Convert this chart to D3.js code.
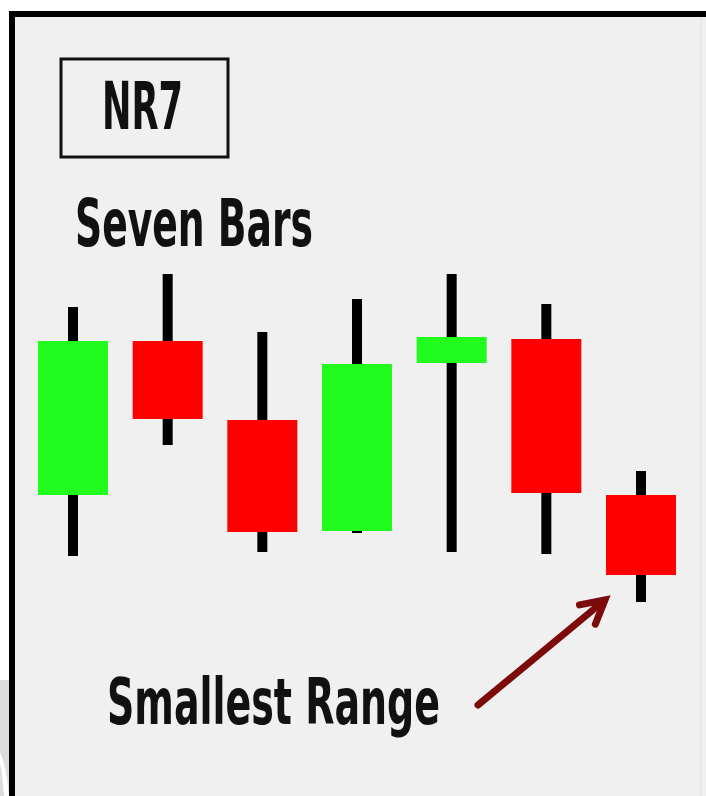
<!DOCTYPE html>
<html>
<head>
<meta charset="utf-8">
<script src="https://cdn.jsdelivr.net/npm/d3@7"></script>
<style>
  html, body { margin: 0; padding: 0; background: #fff; }
  svg { display: block; }
  text { font-family: "Liberation Sans Narrow", "DejaVu Sans Condensed", Roboto, sans-serif; font-weight: 700; fill: #111; }
</style>
</head>
<body>
<svg id="chart"></svg>
<script>
const canvasWidth = 706,
    canvasHeight = 796

// seven bars, arbitrary price units
const bars  = [1, 2, 3, 4, 5, 6, 7]
const open  = [11.5, 26.9, 19.0,  7.9, 24.7, 27.1, 11.5]
const high  = [30.3, 33.6, 27.8, 31.1, 33.6, 30.6, 13.9]
const low   = [ 5.4, 16.5,  5.8,  7.7,  5.8,  5.6,  0.8]
const close = [26.9, 19.1,  7.8, 24.6, 27.3, 11.7,  3.5]

const title = 'NR7'
const subtitle = 'Seven Bars'
const note = 'Smallest Range'

const candles = bars.map((b, i) => ({ bar: b, open: open[i], high: high[i], low: low[i], close: close[i] }))

const bodyWidth = 70,
    wickWidth = 10,
    up = '#22fb1e',
    down = '#ff0000'

const x = d3.scalePoint().domain(bars).range([73, 641])
const y = d3.scaleLinear().domain([0, 35]).range([610, 260])

const svg = d3.select('#chart')
    .attr('width', canvasWidth)
    .attr('height', canvasHeight)

// panel + frame (top and left edges only, like the cropped picture)
svg.append('rect')
    .attr('x', 0).attr('y', 680).attr('width', 10).attr('height', 116)
    .attr('fill', '#dcdcdc')
svg.append('path')
    .attr('d', 'M0,752 C4,762 7,774 9,796 L4,796 C3,782 2,770 0,764 Z')
    .attr('fill', '#fff')
svg.append('rect')
    .attr('x', 15).attr('y', 17)
    .attr('width', canvasWidth - 15).attr('height', canvasHeight - 17)
    .attr('fill', '#f0f0f0')
svg.append('line')
    .attr('x1', 9).attr('x2', canvasWidth).attr('y1', 14).attr('y2', 14)
    .attr('stroke', '#000').attr('stroke-width', 6)
svg.append('line')
    .attr('x1', 12).attr('x2', 12).attr('y1', 11).attr('y2', canvasHeight)
    .attr('stroke', '#000').attr('stroke-width', 6)
svg.append('line')
    .attr('x1', 701).attr('x2', 701).attr('y1', 17).attr('y2', canvasHeight)
    .attr('stroke', '#e8e8e8').attr('stroke-width', 2)

// title box
svg.append('rect')
    .attr('x', 61).attr('y', 59).attr('width', 167).attr('height', 98)
    .attr('fill', 'none').attr('stroke', '#111').attr('stroke-width', 3)
svg.append('text')
    .attr('x', 102).attr('y', 129)
    .attr('font-size', 66)
    .attr('textLength', 81).attr('lengthAdjust', 'spacingAndGlyphs')
    .text(title)

svg.append('text')
    .attr('x', 75).attr('y', 246)
    .attr('font-size', 65)
    .attr('textLength', 238).attr('lengthAdjust', 'spacingAndGlyphs')
    .text(subtitle)

// candles
const candle = svg.append('g').attr('class', 'candles')
    .selectAll('g')
    .data(candles)
    .join('g')

candle.append('rect')
    .attr('class', 'wick')
    .attr('x', d => x(d.bar) - wickWidth / 2)
    .attr('width', wickWidth)
    .attr('y', d => y(d.high))
    .attr('height', d => y(d.low) - y(d.high))
    .attr('fill', '#000')

candle.append('rect')
    .attr('class', 'body')
    .attr('x', d => x(d.bar) - bodyWidth / 2)
    .attr('width', bodyWidth)
    .attr('y', d => y(Math.max(d.open, d.close)))
    .attr('height', d => Math.abs(y(d.open) - y(d.close)))
    .attr('fill', d => d.close >= d.open ? up : down)

// annotation
svg.append('text')
    .attr('x', 107).attr('y', 724)
    .attr('font-size', 64)
    .attr('textLength', 333).attr('lengthAdjust', 'spacingAndGlyphs')
    .text(note)

const last = candles[candles.length - 1]
const tip = [x(last.bar) - bodyWidth / 2 - 1, y(last.close) + 25]
const tail = [478, 705]
const ang = Math.atan2(tail[1] - tip[1], tail[0] - tip[0])
const barb = 26, spread = 0.5

svg.append('line')
    .attr('x1', tail[0]).attr('y1', tail[1])
    .attr('x2', tip[0] - 3 * Math.cos(ang + Math.PI)).attr('y2', tip[1] - 3 * Math.sin(ang + Math.PI))
    .attr('stroke', '#7d0a0a').attr('stroke-width', 7).attr('stroke-linecap', 'round')

svg.append('path')
    .attr('d', d3.line()([
        [tip[0] + barb * Math.cos(ang - spread), tip[1] + barb * Math.sin(ang - spread)],
        tip,
        [tip[0] + barb * Math.cos(ang + spread), tip[1] + barb * Math.sin(ang + spread)]
    ]))
    .attr('fill', 'none')
    .attr('stroke', '#7d0a0a').attr('stroke-width', 7)
    .attr('stroke-linecap', 'round').attr('stroke-linejoin', 'miter')
</script>
</body>
</html>
